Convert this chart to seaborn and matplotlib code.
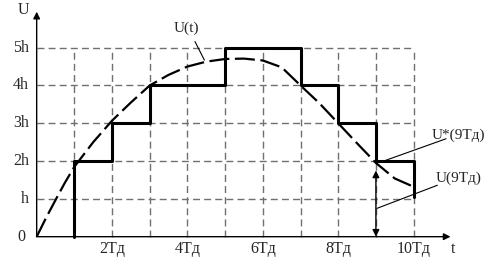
import matplotlib
matplotlib.use("Agg")
import matplotlib.pyplot as plt
import seaborn as sns
import numpy as np
import pandas as pd

# ---- data ----
curve_t = [0, 0.25, 0.5, 0.75, 1.0, 1.5, 2.0, 2.5, 3.0, 3.5, 4.0, 4.5, 5.0,
           5.5, 6.0, 6.5, 7.0, 7.5, 8.0, 8.5, 9.0, 9.5, 10.0]
curve_u = [0, 0.50, 0.97, 1.43, 1.85, 2.50, 3.07, 3.55, 4.00, 4.28, 4.50, 4.63, 4.70,
           4.71, 4.66, 4.48, 4.00, 3.53, 3.00, 2.47, 1.95, 1.54, 1.32]

stair_t = [1, 1, 2, 3, 4, 5, 6, 7, 8, 9, 10, 10]
stair_u = [0, 2, 3, 4, 4, 5, 5, 4, 3, 2, 2, 1.05]

x_ticks = [2, 4, 6, 8, 10]
x_labels = ["2Tд", "4Tд", "6Tд", "8Tд", "10Tд"]
y_ticks = [0, 1, 2, 3, 4, 5]
y_labels = ["0", "h", "2h", "3h", "4h", "5h"]
grid_x = [1, 2, 3, 4, 5, 6, 7, 8, 9, 10]
grid_y = [1, 2, 3, 4, 5]

sns.set_style("white")
plt.rcParams['font.family'] = ['Liberation Serif', 'DejaVu Serif']

fig = plt.figure(figsize=(4.89, 2.61), dpi=100)
ax = fig.add_axes([0, 0, 1, 1])
ax.set_xlim(-0.973, 12.0)
ax.set_ylim(-0.643, 6.26)
ax.axis('off')

gcol = "#707070"
ax.hlines(grid_y, 0, 10, colors=gcol, linestyles=(0, (5, 3)), linewidth=1.0)
ax.vlines(grid_x, 0, 5, colors=gcol, linestyles=(0, (5, 3)), linewidth=1.0)

df_c = pd.DataFrame({"t": curve_t, "u": curve_u})
sns.lineplot(data=df_c, x="t", y="u", ax=ax, color="black", linewidth=1.6,
             estimator=None, sort=False, dashes=False)
ax.lines[-1].set_linestyle((0, (9, 2.5)))

df_s = pd.DataFrame({"t": stair_t, "u": stair_u})
sns.lineplot(data=df_s, x="t", y="u", ax=ax, color="black", linewidth=2.2,
             estimator=None, sort=False, drawstyle="steps-post")

# axes with arrows
ap = dict(arrowstyle="-|>", color="black", lw=1.0, mutation_scale=10,
          shrinkA=0, shrinkB=0)
ax.annotate("", xy=(0, 5.95), xytext=(0, 0), arrowprops=ap)
ax.annotate("", xy=(10.98, 0), xytext=(0, 0), arrowprops=ap)
ax.annotate("", xy=(9, 1.75), xytext=(9, 0),
            arrowprops=dict(arrowstyle="<|-|>", color="black", lw=1.0,
                            mutation_scale=10, shrinkA=0, shrinkB=0))

fs = 11.5
for xt, lab in zip(x_ticks, x_labels):
    ax.text(xt, -0.33, lab, ha="center", va="center", fontsize=fs)
for yt, lab in zip(y_ticks, y_labels):
    ax.text(-0.2 if yt else -0.3, yt, lab, ha="right", va="center", fontsize=fs)
ax.text(-0.35, 6.0, "U", ha="center", va="center", fontsize=fs)
ax.text(11.05, -0.33, "t", ha="center", va="center", fontsize=fs)

# annotations
fa = 11
ax.text(3.98, 5.51, "U(t)", ha="center", va="center", fontsize=fa)
ax.plot([4.2, 4.45], [5.16, 4.67], color="black", lw=0.8)
ax.text(10.49, 2.69, "U*(9Tд)", ha="left", va="center", fontsize=fa)
ax.plot([9.26, 10.86], [2.02, 2.59], color="black", lw=0.8)
ax.text(10.59, 1.54, "U(9Tд)", ha="left", va="center", fontsize=fa)
ax.plot([9.03, 10.63], [0.75, 1.36], color="black", lw=0.8)

fig.savefig("out.png", dpi=100)
